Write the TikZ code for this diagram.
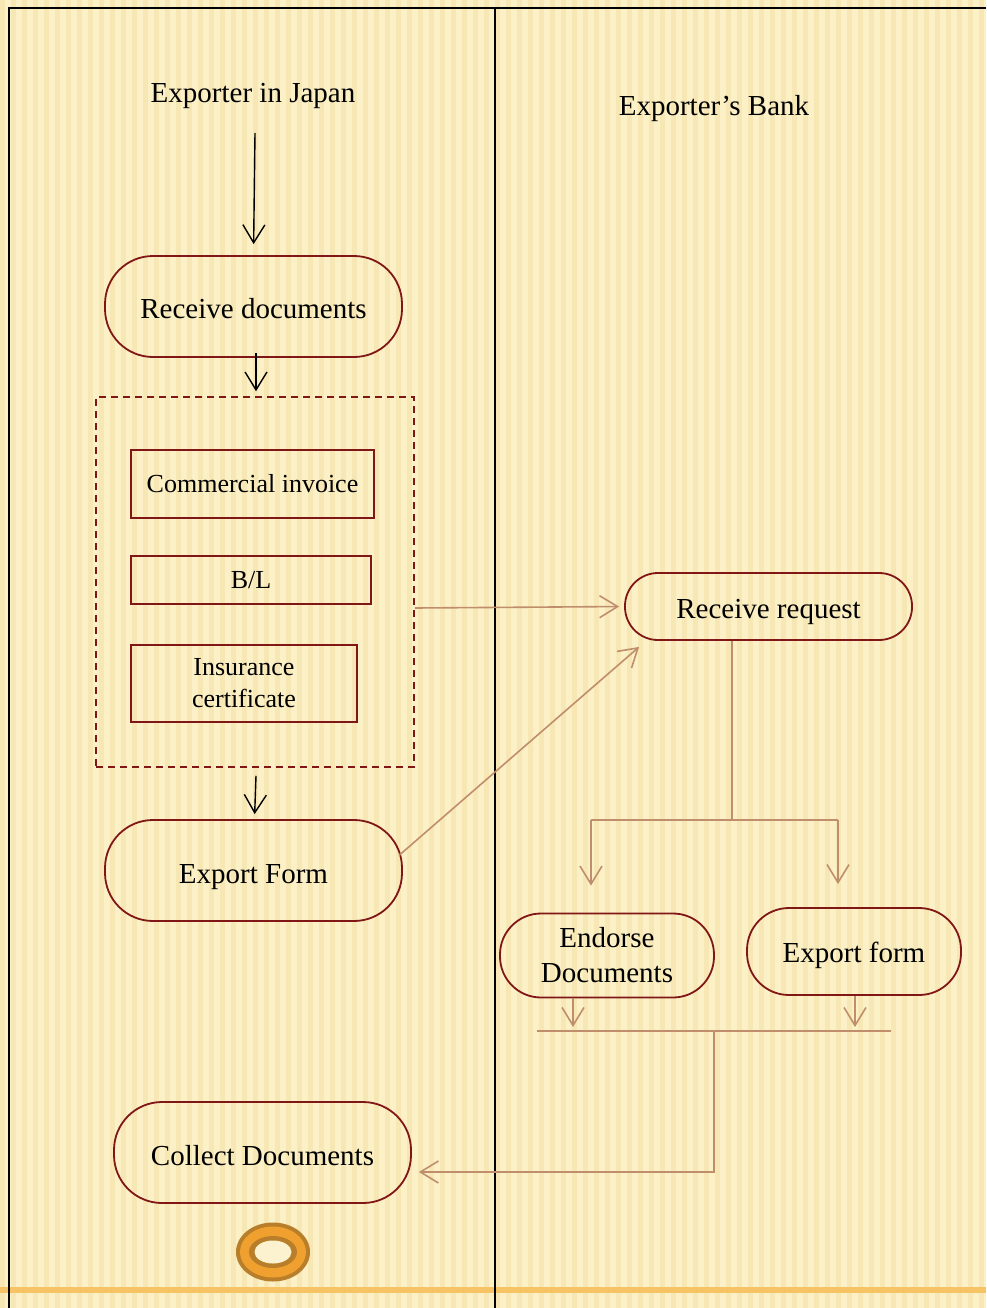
\documentclass[tikz,border=0pt]{standalone}
\usepackage{fontspec}
\setmainfont{Liberation Serif}
\usetikzlibrary{arrows.meta}
\definecolor{dred}{RGB}{128,22,22}
\definecolor{tanl}{RGB}{192,142,108}
\definecolor{bgc}{RGB}{252,240,198}
\definecolor{stripec}{RGB}{242,224,164}
\definecolor{ringd}{RGB}{184,126,42}
\definecolor{ringo}{RGB}{240,160,46}
\definecolor{ringw}{RGB}{252,242,208}
\definecolor{orline}{RGB}{246,196,100}
\newcommand\lowr[2]{\raisebox{-#1pt}[20pt][6pt]{#2}}
\begin{document}
\begin{tikzpicture}[x=1pt,y=-1pt,
  lbl/.style={font=\fontsize{29}{34}\selectfont, inner sep=0pt},
  stad/.style={draw=dred, line width=1.8pt, align=center, inner sep=2pt,
    font=\fontsize{29}{35}\selectfont},
  docbox/.style={draw=dred, line width=1.8pt, align=center, inner sep=2pt,
    font=\fontsize{26}{32}\selectfont},
  blk/.style={-{Straight Barb[length=18pt,width=22pt]}, line width=1.4pt, black},
  tarr/.style={-{Straight Barb[length=18pt,width=22pt]}, line width=1.6pt, tanl},
  tln/.style={line width=1.6pt, tanl}]
\useasboundingbox (0,0) rectangle (986,1308);
% background
\fill[bgc] (0,0) rectangle (986,1308);
\foreach \x in {0,11,...,980} \fill[stripec, opacity=0.5] (\x,0) rectangle ++(5,1308);
\fill[orline] (0,1287) rectangle (986,1293);
% frame
\draw[line width=1.5pt] (9,1308) -- (9,8) -- (986,8);
\draw[line width=2.5pt] (495,8) -- (495,1308);
% titles
\node[lbl] (t1) at (253,96) {Exporter in Japan};
\node[lbl] (t2) at (714,109) {Exporter’s Bank};
% left lane
\node[stad, minimum width=297pt, minimum height=101pt, rounded corners=48pt] (rd) at (253.5,306.5) {\lowr{5}{Receive documents}};
\node[draw=dred, line width=1.5pt, dash pattern=on 7pt off 5pt, minimum width=318pt, minimum height=370pt] (grp) at (255,582) {};
\node[docbox, minimum width=243pt, minimum height=68pt] (ci) at (252.5,484) {Commercial invoice};
\node[docbox, minimum width=240pt, minimum height=48pt] (bl) at (251,580) {\lowr{1}{B/L}};
\node[docbox, minimum width=226pt, minimum height=77pt] (ic) at (244,683.5) {Insurance\\certificate};
\node[stad, minimum width=297pt, minimum height=101pt, rounded corners=48pt] (ef) at (253.5,870.5) {\lowr{6}{Export Form}};
\node[stad, minimum width=297pt, minimum height=101pt, rounded corners=48pt] (cd) at (262.5,1152.5) {\lowr{6}{Collect Documents}};
% right lane
\node[stad, minimum width=287pt, minimum height=67pt, rounded corners=33pt] (rr) at (768.5,606.5) {\lowr{5}{Receive request}};
\node[stad, minimum width=214pt, minimum height=84pt, rounded corners=41pt] (ed) at (607,955.5) {Endorse\\Documents};
\node[stad, minimum width=214pt, minimum height=87pt, rounded corners=42pt] (ex) at (854,951.5) {\lowr{4}{Export form}};
% coordinates
\coordinate (s0) at (255,133);
\coordinate (sl) at (591,820);
\coordinate (sr) at (838,820);
\coordinate (jl) at (537,1031);
\coordinate (jr) at (891,1031);
\coordinate (jm) at (714,1031);
% black arrows
\draw[blk, shorten >=11pt] (s0) -- (rd.north);
\draw[blk, shorten >=5pt] ([xshift=2.5pt,yshift=5pt]rd.south) -- ([xshift=1pt]grp.north);
\draw[blk, shorten >=5pt] ([xshift=1pt,yshift=-8pt]grp.south) -- ([xshift=1pt]ef.north);
% tan connectors
\draw[tarr, shorten >=5pt] ([yshift=-26pt]grp.east) -- (rr.west);
\draw[tarr] ([xshift=-4pt,yshift=15pt]ef.east) -- ([xshift=15pt,yshift=-6pt]rr.south west);
\draw[tln] ([xshift=-36.5pt]rr.south) -- ([xshift=-36.5pt]rr.south |- sl);
\draw[tln] (sl) -- (sr);
\draw[tarr, shorten >=27pt] (sl) -- (sl |- ed.north);
\draw[tarr, shorten >=23pt] (sr) -- (sr |- ex.north);
\draw[tarr, shorten >=4pt] ([xshift=-34pt]ed.south) -- ([xshift=-34pt]ed.south |- jl);
\draw[tarr, shorten >=4pt] ([xshift=1pt]ex.south) -- ([xshift=1pt]ex.south |- jl);
\draw[tln] (jl) -- (jr);
\draw[tarr, shorten >=7pt] (jm) |- ([yshift=-19.5pt]cd.east);
% end marker
\fill[ringd] (273,1252) ellipse [x radius=37pt, y radius=29.5pt];
\fill[ringo] (273,1252) ellipse [x radius=33pt, y radius=25.5pt];
\fill[ringd] (273,1252) ellipse [x radius=24pt, y radius=16pt];
\fill[ringw] (273,1252) ellipse [x radius=18.5pt, y radius=11.5pt];
\end{tikzpicture}
\end{document}
